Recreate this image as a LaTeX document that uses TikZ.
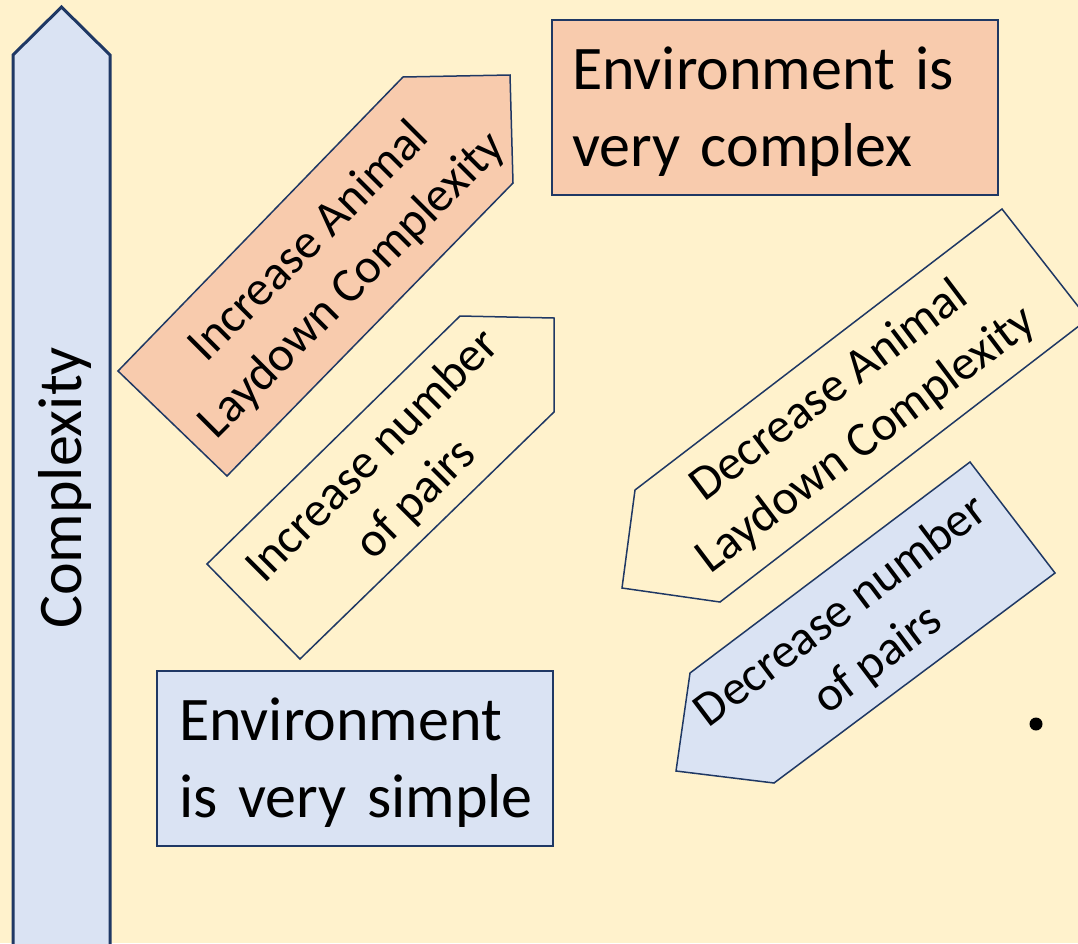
\documentclass[tikz,border=0pt]{standalone}
\usepackage{fontspec}
\setmainfont{Carlito}
\usepackage{tikz}
\usetikzlibrary{calc,positioning}
\definecolor{bgyellow}{HTML}{FFF2CC}
\definecolor{salmon}{HTML}{F8CBAD}
\definecolor{paleblue}{HTML}{DAE3F3}
\definecolor{navy}{HTML}{1F3864}
\tikzset{plate/.style={draw=navy,line width=1.5pt,line join=miter},
arrowtxt/.style={align=center,inner sep=0pt,text=black,font=\fontsize{49}{61}\selectfont},
envbox/.style={draw=navy,line width=1.5pt,align=left,text height=41pt,text depth=77pt,text=black,font=\fontsize{62}{77}\selectfont}}

\begin{document}
\begin{tikzpicture}[x=1pt,y=-1pt]
		\fill[bgyellow] (0,0) rectangle (1078,943);
		\useasboundingbox (0,0) rectangle (1078,943);
		\clip (0,0) rectangle (1078,943);

		% big complexity arrow
		\draw[plate,fill=paleblue,line width=3pt] (13,960) -- (13,55) -- (61.5,7) -- (110,55) -- (110,960) -- cycle;
		\node[arrowtxt,font=\fontsize{62}{77}\selectfont,rotate=90] (cplx) at (65,488) {Complexity};

		% home plates
		\draw[plate,fill=salmon] (118,371) -- (403,77) -- (510,75) -- (513,183) -- (227,476) -- cycle;
		\draw[plate] (207,564) -- (460,316) -- (554,318) -- (554,412) -- (300,659) -- cycle;
		\draw[plate] (635,490) -- (1002,209) -- (1088,319) -- (720,602) -- (622,588) -- cycle;
		\draw[plate,fill=paleblue] (690,673) -- (970,462) -- (1055,573) -- (774,783) -- (676,771) -- cycle;

		\begin{scope}[every node/.style={arrowtxt}]
			\node[rotate=45] (incAnimal) at (331,264) {Increase Animal\\Laydown Complexity};
			\node[rotate=45] (incPairs) at (395,478) {Increase number\\of pairs};
			\node[rotate=37] (decAnimal) at (848,416) {Decrease Animal\\Laydown Complexity};
			\node[rotate=37] (decPairs) at (860,636) {Decrease number\\of pairs};
		\end{scope}

		% environment boxes
		\node[envbox,fill=salmon,minimum width=446pt,minimum height=175pt,text width=406pt,inner xsep=20pt] (complex) at (775,107.5) {\mbox{Environment is}\\\mbox{very complex}};
		\node[envbox,fill=paleblue,minimum width=396pt,minimum height=175pt,text width=352pt,inner xsep=22pt] (simple) at (355,758.5) {\mbox{Environment}\\\mbox{is very simple}};

		\fill (1036,724) circle (6.5pt);
	\end{tikzpicture}
\end{document}
